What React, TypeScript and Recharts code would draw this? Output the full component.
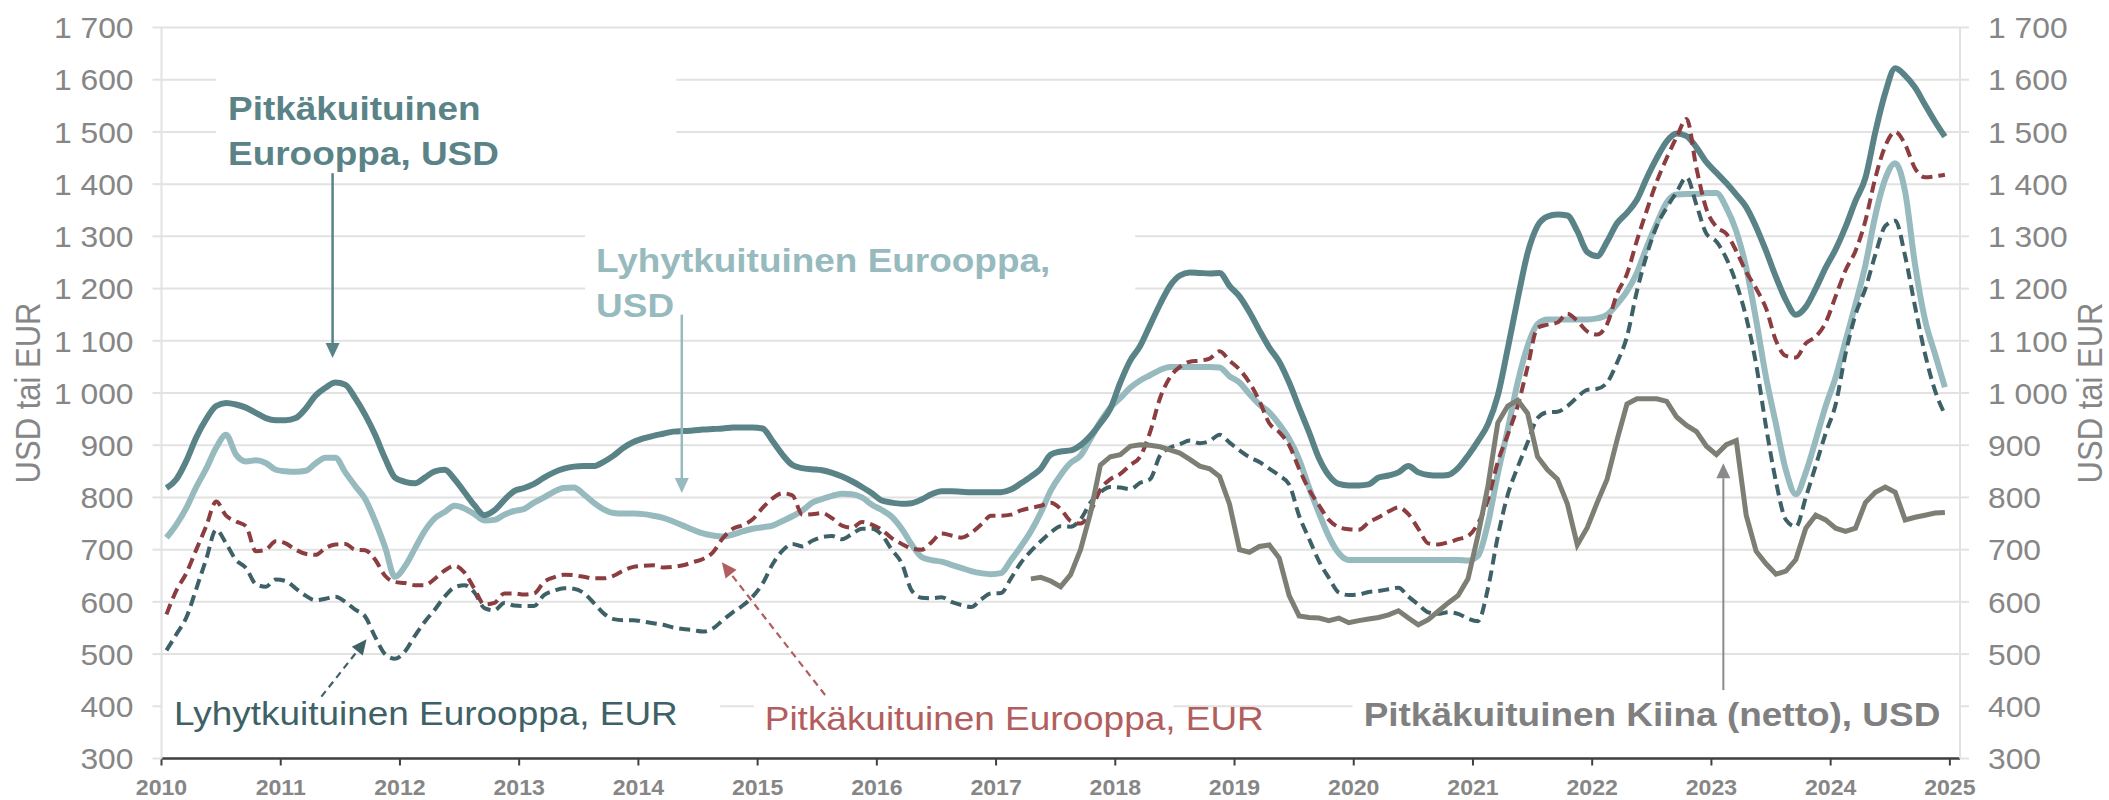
import React from 'react';
import {
  LineChart,
  Line,
  XAxis,
  YAxis,
  CartesianGrid,
  ReferenceArea,
  ReferenceLine,
  ReferenceDot,
} from 'recharts';

const WIDTH = 2109;
const HEIGHT = 800;
const FONT = '"Liberation Sans", Arial, Helvetica, sans-serif';
const STRETCH = 1.12;

// ---------- categories / ticks ----------
const years = [2010, 2011, 2012, 2013, 2014, 2015, 2016, 2017, 2018, 2019, 2020, 2021, 2022, 2023, 2024];
const xTicks = [2010, 2011, 2012, 2013, 2014, 2015, 2016, 2017, 2018, 2019, 2020, 2021, 2022, 2023, 2024, 2025];
const yTicks = [300, 400, 500, 600, 700, 800, 900, 1000, 1100, 1200, 1300, 1400, 1500, 1600, 1700];
const X_MIN = 2010;
const X_MAX = 2025.085;
const kiinaStartYear = 2017;
const kiinaStartMonth = 4;

// ---------- series (monthly, Jan 2010 – Dec 2024) ----------
const pitkaEurooppaUsd = [
  818, 835, 870, 915, 950, 975, 981, 978, 972, 962, 952, 948,
  948, 952, 970, 995, 1010, 1020, 1016, 990, 958, 920, 875, 838,
  830, 827, 838, 850, 853, 835, 810, 785, 766, 775, 795, 812,
  818, 826, 838, 848, 855, 859, 860, 860, 868, 880, 895, 906,
  913, 918, 922, 926, 927, 928, 930, 931, 932, 934, 934, 934,
  932, 908, 882, 862, 856, 854, 852, 847, 840, 831, 820, 808,
  794, 790, 788, 789, 796, 806, 812, 812, 811, 810, 810, 810,
  810, 815, 827, 840, 855, 882, 888, 890, 900, 918, 942, 970,
  1020, 1062, 1090, 1130, 1170, 1205, 1225, 1231, 1230, 1229, 1230, 1205,
  1185, 1155, 1120, 1087, 1060, 1020, 972, 925, 875, 842, 826, 823,
  823, 825, 838, 842, 848, 860, 848, 843, 842, 843, 856, 880,
  908, 940, 995, 1085, 1180, 1268, 1320, 1338, 1342, 1340, 1310, 1270,
  1262, 1290, 1325, 1345, 1370, 1412, 1450, 1482, 1497, 1492, 1470, 1442,
  1422, 1402, 1380, 1356, 1318, 1272, 1222, 1178, 1150, 1165, 1200, 1240,
  1275, 1318, 1368, 1412, 1500, 1575, 1622, 1608, 1585, 1552, 1520, 1491,
];

const lyhytEurooppaUsd = [
  723, 748, 780, 820, 855, 895, 920, 882, 869, 871, 866, 853,
  850, 849, 851, 865, 876, 876, 848, 822, 797, 755, 705, 648,
  668, 702, 736, 760, 772, 784, 779, 768, 756, 757, 767, 774,
  778, 790, 800, 811, 818, 819, 806, 790, 777, 770, 769, 769,
  768, 765, 761, 754, 746, 738, 731, 727, 725, 729, 735, 740,
  743, 746, 755, 764, 775, 790, 797, 803, 807, 806, 800, 786,
  776, 763, 740, 710, 686, 680, 677, 671, 665, 659, 655, 653,
  655, 680, 706, 735, 771, 813, 843, 866, 880, 912, 945, 972,
  990, 1010, 1024, 1034, 1044, 1050, 1050, 1050, 1050, 1050, 1049, 1032,
  1020, 998, 978, 963, 940, 912, 873, 819, 770, 725, 693, 680,
  680, 680, 680, 680, 680, 680, 680, 680, 680, 680, 680, 679,
  688, 750, 845, 930, 1020, 1090, 1132, 1141, 1141, 1141, 1141, 1141,
  1143, 1150, 1170, 1195, 1230, 1280, 1325, 1365, 1380, 1381, 1381, 1383,
  1383, 1355, 1310, 1240, 1140, 1030, 940, 852, 806, 848, 910, 975,
  1030, 1100, 1170, 1245, 1340, 1410, 1440, 1385, 1245, 1140, 1075, 1011,
];

const pitkaEurooppaEur = [
  576, 622, 655, 700, 745, 792, 765, 754, 745, 697, 700, 716,
  712, 700, 692, 690, 703, 710, 711, 700, 699, 681, 650, 638,
  636, 632, 632, 644, 660, 669, 656, 625, 595, 598, 616, 616,
  614, 616, 638, 647, 652, 651, 648, 645, 645, 650, 660, 667,
  669, 670, 666, 667, 670, 676, 682, 695, 722, 740, 747, 758,
  780, 798, 808, 804, 767, 768, 770, 760, 746, 742, 753, 748,
  738, 722, 711, 702, 700, 714, 731, 727, 723, 732, 748, 765,
  765, 767, 775, 780, 784, 790, 778, 755, 750, 773, 815, 835,
  845, 862, 878, 925, 990, 1030, 1050, 1060, 1062, 1066, 1080, 1062,
  1045, 1020, 985, 942, 925, 900, 855, 815, 785, 757, 743, 739,
  738, 752, 762, 773, 781, 768, 740, 712, 710, 714, 720, 726,
  750, 795, 868, 920, 975, 1050, 1125, 1131, 1135, 1152, 1138, 1118,
  1112, 1132, 1190, 1228, 1292, 1350, 1405, 1450, 1490, 1525, 1430, 1352,
  1318, 1305, 1272, 1232, 1200, 1162, 1100, 1071, 1068, 1095, 1108, 1135,
  1185, 1235, 1272, 1330, 1412, 1473, 1500, 1476, 1430, 1413, 1415, 1418,
];

const lyhytEurooppaEur = [
  507, 538, 570, 625, 682, 738, 712, 680, 665, 634, 629, 643,
  640, 626, 612, 603, 606, 610, 600, 585, 572, 533, 500, 491,
  505, 535, 562, 585, 610, 628, 632, 618, 588, 584, 598, 593,
  592, 592, 613, 621, 626, 625, 617, 598, 578, 567, 565, 565,
  562, 559, 556, 551, 548, 546, 543, 549, 565, 580, 593, 610,
  635, 672, 698, 711, 706, 717, 724, 726, 720, 730, 740, 740,
  728, 700, 674, 622, 608, 607, 609, 600, 594, 590, 605, 616,
  617, 645, 675, 697, 716, 733, 745, 744, 758, 790, 810, 820,
  819, 816, 828, 835, 880, 895, 902, 909, 904, 908, 920, 905,
  890, 877, 868, 855, 842, 825, 765, 721, 678, 646, 618, 613,
  614, 619, 621, 624, 627, 610, 595, 580, 577, 580, 577, 568,
  563, 625, 725, 805, 858, 905, 952, 963, 964, 975, 992, 1006,
  1008, 1020, 1058, 1108, 1195, 1265, 1320, 1355, 1385, 1413, 1360, 1305,
  1290, 1258, 1210, 1145, 1055, 935, 830, 757, 744, 800, 861, 923,
  978, 1075, 1150, 1200, 1265, 1320, 1330, 1262, 1165, 1075, 1005, 959,
];

// Apr 2017 – Dec 2024
const pitkaKiinaUsd = [
  644, 647, 640, 629, 652, 700, 770, 862, 878,
  882, 898, 901, 900, 897, 891, 885, 873, 860, 855, 840, 787,
  700, 695, 706, 709, 684, 612, 573, 570, 569, 564, 569, 560,
  564, 567, 570, 575, 583, 569, 556, 566, 582, 598, 612, 644,
  727, 821, 943, 975, 986, 961, 878, 853, 835, 788, 709, 742,
  790, 835, 910, 979, 989, 989, 989, 984, 954, 938, 926, 898,
  882, 901, 909, 766, 697, 673, 653, 659, 681, 741, 766, 757,
  741, 735, 741, 790, 810, 820, 810, 757, 762, 766, 770, 771,
];

// ---------- colours ----------
const C_PU = '#5a8388';
const C_LU = '#97babe';
const C_PE = '#8c3d40';
const C_LE = '#3e6167';
const C_CN = '#7d7f75';
const C_PE_TXT = '#b25e5e';
const C_CN_TXT = '#808080';
const C_GRID = '#e2e2e2';
const C_TICK = '#868686';
const C_XAXIS = '#404040';

// ---------- annotations (data coordinates) ----------
const labelBoxes = [
  { x1: 2010.459, x2: 2014.318, y1: 1420, y2: 1640 },
  { x1: 2013.553, x2: 2018.167, y1: 1130, y2: 1370 },
  { x1: 2010.0, x2: 2014.686, y1: 365, y2: 440 },
  { x1: 2014.97, x2: 2018.487, y1: 365, y2: 440 },
  { x1: 2019.99, x2: X_MAX, y1: 365, y2: 440 },
];

const textLabels = [
  { x: 2010.558, y: 1522.9, lines: ['Pitkäkuituinen', 'Eurooppa, USD'], color: C_PU, bold: true },
  { x: 2013.645, y: 1231.8, lines: ['Lyhytkuituinen Eurooppa,', 'USD'], color: C_LU, bold: true },
  { x: 2010.105, y: 364.3, lines: ['Lyhytkuituinen Eurooppa, EUR'], color: C_LE, bold: false },
  { x: 2015.06, y: 354.6, lines: ['Pitkäkuituinen Eurooppa, EUR'], color: C_PE_TXT, bold: false },
  { x: 2020.083, y: 362.2, lines: ['Pitkäkuituinen Kiina (netto), USD'], color: C_CN_TXT, bold: true },
];

const arrows = [
  { from: [2011.435, 1421], to: [2011.435, 1067], color: C_PU, w: 2.5, dash: undefined as string | undefined },
  { from: [2014.364, 1150], to: [2014.364, 808.5], color: C_LU, w: 2.5, dash: undefined },
  { from: [2011.341, 418.4], to: [2011.72, 528.3], color: C_LE, w: 2.2, dash: '7 5' },
  { from: [2015.566, 421.6], to: [2014.7, 675.8], color: C_PE_TXT, w: 2.2, dash: '7 5' },
  { from: [2023.1, 431], to: [2023.1, 865.4], color: '#8a8a8a', w: 2, dash: undefined },
];

// ---------- build table ----------
const kiinaOffset = (kiinaStartYear - years[0]) * 12 + (kiinaStartMonth - 1);
const data = years.flatMap((yr, yi) =>
  Array.from({ length: 12 }, (_, m) => {
    const i = yi * 12 + m;
    const ci = i - kiinaOffset;
    return {
      t: yr + (m + 0.5) / 12,
      pu: pitkaEurooppaUsd[i],
      lu: lyhytEurooppaUsd[i],
      pe: pitkaEurooppaEur[i],
      le: lyhytEurooppaEur[i],
      cn: ci >= 0 ? pitkaKiinaUsd[ci] : null,
    };
  })
);

const fmt = (v: number) =>
  v >= 1000 ? `${Math.floor(v / 1000)} ${String(v % 1000).padStart(3, '0')}` : String(v);

const YTick = (anchor: 'start' | 'end') => (props: any) => {
  const { x, y, payload } = props;
  const fs = 30;
  return (
    <text
      transform={`translate(${x},${y}) scale(1.06,1)`}
      x={0}
      y={0}
      dy={fs * 0.358}
      textAnchor={anchor}
      fontFamily={FONT}
      fontSize={fs}
      fill={C_TICK}
    >
      {fmt(payload.value)}
    </text>
  );
};

const XTick = (props: any) => {
  const { x, y, payload } = props;
  return (
    <text
      transform={`translate(${x},${y + 27.5}) scale(1.05,1)`}
      x={0}
      y={0}
      textAnchor="middle"
      fontFamily={FONT}
      fontSize={22}
      fontWeight="bold"
      fill={C_TICK}
    >
      {payload.value}
    </text>
  );
};

const axisTitle = (dxFromAxisBox: number) => (props: any) => {
  const vb = props.viewBox || {};
  if (typeof vb.x !== 'number') return null;
  const cx = vb.x + dxFromAxisBox;
  const cy = vb.y + vb.height / 2;
  return (
    <text
      transform={`translate(${cx},${cy}) scale(${STRETCH},1) rotate(-90)`}
      x={0}
      y={0}
      dy={31 * 0.358}
      textAnchor="middle"
      fontFamily={FONT}
      fontSize={31}
      fill={C_TICK}
    >
      USD tai EUR
    </text>
  );
};

const arrowShape = (color: string, width: number, dash?: string) => (p: any) => {
  const { x1, y1, x2, y2 } = p;
  if ([x1, y1, x2, y2].some((v) => typeof v !== 'number' || isNaN(v))) return <g />;
  const headLen = 15;
  const headW = 14;
  const dx = x2 - x1;
  const dy = y2 - y1;
  const len = Math.hypot(dx, dy) || 1;
  const ux = dx / len;
  const uy = dy / len;
  const bx = x2 - ux * headLen;
  const by = y2 - uy * headLen;
  const px = -uy;
  const py = ux;
  return (
    <g>
      <line x1={x1} y1={y1} x2={bx} y2={by} stroke={color} strokeWidth={width} strokeDasharray={dash} />
      <polygon
        points={`${x2},${y2} ${bx + (px * headW) / 2},${by + (py * headW) / 2} ${bx - (px * headW) / 2},${by - (py * headW) / 2}`}
        fill={color}
      />
    </g>
  );
};

const labelShape = (lines: string[], color: string, bold: boolean) => (p: any) => {
  const { cx, cy } = p;
  if (typeof cx !== 'number' || typeof cy !== 'number') return <g />;
  return (
    <text
      transform={`translate(${cx},${cy}) scale(${STRETCH},1)`}
      x={0}
      y={0}
      fontFamily={FONT}
      fontSize={33}
      fontWeight={bold ? 'bold' : 'normal'}
      fill={color}
    >
      {lines.map((ln, i) => (
        <tspan key={i} x={0} dy={i === 0 ? 0 : 45}>
          {ln}
        </tspan>
      ))}
    </text>
  );
};

export default function App() {
  return (
    <div style={{ position: 'absolute', left: 0, top: 0, width: WIDTH, height: HEIGHT, background: '#fff' }}>
      <LineChart
        width={WIDTH}
        height={HEIGHT}
        data={data}
        margin={{ top: 27.5, right: 0, bottom: 0, left: 0 }}
      >
        <CartesianGrid horizontal vertical={false} stroke={C_GRID} strokeWidth={2} />
        <XAxis
          dataKey="t"
          type="number"
          domain={[X_MIN, X_MAX]}
          ticks={xTicks}
          interval={0}
          height={41.5}
          axisLine={{ stroke: C_XAXIS, strokeWidth: 2.5 }}
          tickLine={{ stroke: C_XAXIS, strokeWidth: 2 }}
          tickSize={7}
          tick={XTick}
        />
        <YAxis
          orientation="left"
          type="number"
          domain={[300, 1700]}
          ticks={yTicks}
          interval={0}
          width={161.5}
          axisLine={{ stroke: C_GRID, strokeWidth: 2 }}
          tickLine={{ stroke: C_GRID, strokeWidth: 2 }}
          tickSize={9}
          tickMargin={19}
          tick={YTick('end')}
          label={{ content: axisTitle(28) }}
        />
        <YAxis
          yAxisId="r"
          orientation="right"
          type="number"
          domain={[300, 1700]}
          ticks={yTicks}
          interval={0}
          width={149}
          axisLine={{ stroke: C_GRID, strokeWidth: 2 }}
          tickLine={{ stroke: C_GRID, strokeWidth: 2 }}
          tickSize={9}
          tickMargin={19}
          tick={YTick('start')}
          label={{ content: axisTitle(130) }}
        />
        {labelBoxes.map((b, i) => (
          <ReferenceArea
            key={`box${i}`}
            x1={b.x1}
            x2={b.x2}
            y1={b.y1}
            y2={b.y2}
            fill="#ffffff"
            fillOpacity={1}
            stroke="none"
            ifOverflow="visible"
          />
        ))}
        <Line type="monotone" dataKey="lu" stroke={C_LU} strokeWidth={6} dot={false} activeDot={false} isAnimationActive={false} />
        <Line type="monotone" dataKey="pu" stroke={C_PU} strokeWidth={6} dot={false} activeDot={false} isAnimationActive={false} />
        <Line type="monotone" dataKey="le" stroke={C_LE} strokeWidth={4} strokeDasharray="11 6" dot={false} activeDot={false} isAnimationActive={false} />
        <Line type="monotone" dataKey="pe" stroke={C_PE} strokeWidth={4} strokeDasharray="11 6" dot={false} activeDot={false} isAnimationActive={false} />
        <Line yAxisId="r" type="linear" dataKey="cn" stroke={C_CN} strokeWidth={5} dot={false} activeDot={false} isAnimationActive={false} connectNulls={false} />
        {arrows.map((a, i) => (
          <ReferenceLine
            key={`arr${i}`}
            segment={[
              { x: a.from[0], y: a.from[1] },
              { x: a.to[0], y: a.to[1] },
            ]}
            ifOverflow="visible"
            shape={arrowShape(a.color, a.w, a.dash)}
          />
        ))}
        {textLabels.map((l, i) => (
          <ReferenceDot
            key={`lbl${i}`}
            x={l.x}
            y={l.y}
            r={1}
            ifOverflow="visible"
            shape={labelShape(l.lines, l.color, l.bold)}
          />
        ))}
      </LineChart>
    </div>
  );
}
